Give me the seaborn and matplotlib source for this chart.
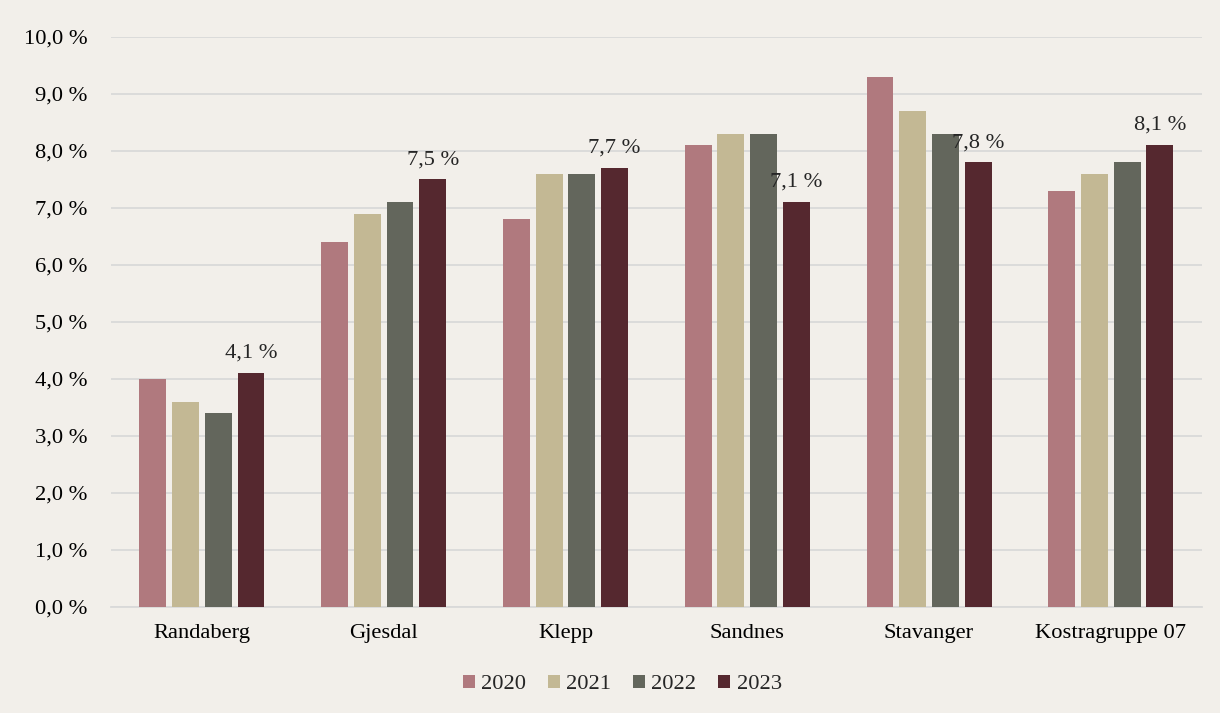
import numpy as np
import pandas as pd
import matplotlib.pyplot as plt
import seaborn as sns

kommuner = ["Randaberg", "Gjesdal", "Klepp", "Sandnes", "Stavanger", "Kostragruppe 07"]
aar = ["2020", "2021", "2022", "2023"]
v2020 = [4.0, 6.4, 6.8, 8.1, 9.3, 7.3]
v2021 = [3.6, 6.9, 7.6, 8.3, 8.7, 7.6]
v2022 = [3.4, 7.1, 7.6, 8.3, 8.3, 7.8]
v2023 = [4.1, 7.5, 7.7, 7.1, 7.8, 8.1]

farger = ["#B0797E", "#C3B894", "#63665C", "#55282F"]
bg = "#F2EFEA"
fs = 16.2

df = pd.DataFrame({"Kommune": kommuner * 4,
                   "År": np.repeat(aar, len(kommuner)),
                   "Andel": v2020 + v2021 + v2022 + v2023})

sns.set_style("white")
plt.rcParams["font.family"] = ["Liberation Serif", "DejaVu Serif"]

fig = plt.figure(figsize=(12.2, 7.13), dpi=100, facecolor=bg)
ax = fig.add_axes([0.091, 0.1487, 0.894, 0.7994], facecolor=bg)

sns.barplot(data=df, x="Kommune", y="Andel", hue="År", palette=farger,
            width=0.72, gap=0.18, saturation=1, linewidth=0, ax=ax, zorder=3)

ax.set_ylim(0, 10)
ax.set_xlim(-0.5, len(kommuner) - 0.5)
ax.set_yticks(np.arange(0, 10.5, 1))
ax.set_yticklabels([f"{t:.1f} %".replace(".", ",") for t in np.arange(0, 10.5, 1)])
ax.grid(axis="y", color="#D9D9D9", linewidth=1.3, zorder=0)
ax.set_axisbelow(True)
for s in ["top", "right", "left"]:
    ax.spines[s].set_visible(False)
ax.spines["bottom"].set_color("#D9D9D9")
ax.spines["bottom"].set_linewidth(1.3)
ax.tick_params(axis="both", length=0, labelsize=fs, colors="#000000")
ax.tick_params(axis="y", pad=17)
ax.tick_params(axis="x", pad=12)
ax.set_xlabel("")
ax.set_ylabel("")

# dataetiketter kun for 2023
siste = ax.containers[3]
for bar, v in zip(siste, v2023):
    ax.annotate(f"{v:.1f} %".replace(".", ","),
                (bar.get_x() + bar.get_width() / 2, bar.get_height()),
                xytext=(0, 11), textcoords="offset points",
                ha="center", va="baseline", fontsize=fs)

handles, labels = ax.get_legend_handles_labels()
ax.legend_.remove()
fig.legend(handles, labels, loc="center", bbox_to_anchor=(0.51, 0.040), ncol=4,
           frameon=False, fontsize=fs, handlelength=0.55, handleheight=0.55,
           handletextpad=0.28, columnspacing=0.95)

fig.savefig("out.png", dpi=100, facecolor=bg)
